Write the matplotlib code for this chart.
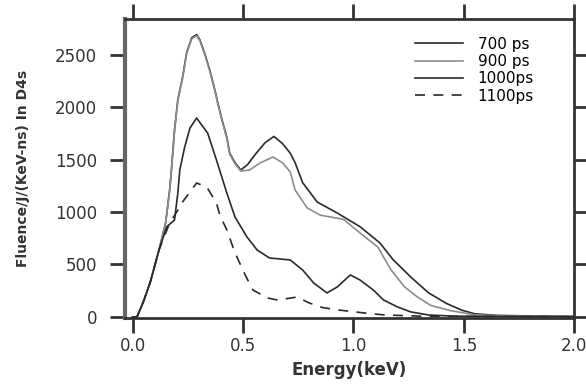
import matplotlib
matplotlib.use("Agg")
import matplotlib.pyplot as plt

# ---- data ----
x_700 = [0.0, 0.02, 0.05, 0.08, 0.12, 0.15, 0.168, 0.177, 0.19, 0.205, 0.227, 0.245, 0.268, 0.29,
         0.305, 0.327, 0.35, 0.373, 0.386, 0.405, 0.427, 0.44, 0.464, 0.49, 0.52, 0.56, 0.6, 0.64,
         0.68, 0.714, 0.736, 0.77, 0.836, 0.927, 1.03, 1.12, 1.18, 1.26, 1.34, 1.42, 1.49, 1.55,
         1.65, 1.8, 2.0]
y_700 = [0, 0, 150, 330, 640, 900, 1210, 1430, 1780, 2070, 2290, 2520, 2660, 2690,
         2640, 2510, 2350, 2160, 2040, 1880, 1710, 1560, 1470, 1400, 1450, 1560, 1660, 1720,
         1650, 1560, 1470, 1280, 1095, 990, 860, 705, 545, 380, 230, 130, 65, 30,
         15, 10, 5]

x_900 = [0.0, 0.02, 0.05, 0.08, 0.12, 0.15, 0.168, 0.177, 0.19, 0.205, 0.227, 0.245, 0.268, 0.29,
         0.305, 0.327, 0.35, 0.373, 0.386, 0.405, 0.427, 0.44, 0.464, 0.49, 0.53, 0.577, 0.636,
         0.68, 0.714, 0.736, 0.79, 0.85, 0.955, 1.03, 1.11, 1.17, 1.23, 1.29, 1.35, 1.44, 1.55,
         1.7, 2.0]
y_900 = [0, 0, 150, 330, 640, 900, 1200, 1420, 1770, 2060, 2280, 2510, 2650, 2680,
         2630, 2500, 2340, 2150, 2030, 1870, 1700, 1550, 1460, 1390, 1400, 1467, 1524,
         1467, 1381, 1210, 1040, 970, 930, 800, 667, 450, 290, 190, 110, 60, 20,
         10, 5]

x_1000 = [0.0, 0.02, 0.05, 0.08, 0.12, 0.155, 0.19, 0.205, 0.214, 0.236, 0.26, 0.29, 0.34, 0.38,
          0.427, 0.464, 0.518, 0.564, 0.62, 0.714, 0.77, 0.82, 0.88, 0.927, 0.986, 1.03, 1.09,
          1.136, 1.2, 1.26, 1.34, 1.45, 1.6, 2.0]
y_1000 = [0, 0, 150, 330, 640, 860, 924, 1180, 1400, 1619, 1800, 1895, 1752, 1495,
          1180, 952, 762, 638, 562, 543, 448, 324, 229, 286, 400, 352, 257,
          162, 95, 48, 19, 8, 5, 3]

x_1100 = [0.0, 0.02, 0.05, 0.08, 0.12, 0.168, 0.2, 0.223, 0.26, 0.29, 0.336, 0.38, 0.395, 0.427,
          0.464, 0.51, 0.545, 0.61, 0.655, 0.7, 0.745, 0.8, 0.86, 0.93, 1.05, 1.14, 1.3, 1.6, 2.0]
y_1100 = [0, 0, 150, 330, 640, 895, 1000, 1086, 1190, 1276, 1238, 1086, 971, 829,
          610, 400, 257, 181, 162, 175, 190, 133, 90, 67, 38, 19, 8, 4, 2]

labels = ["700 ps", "900 ps", "1000ps", "1100ps"]
x_ticks = [0.0, 0.5, 1.0, 1.5, 2.0]
x_ticklabels = ["0.0", "0.5", "1.0", "1.5", "2.0"]
y_ticks = [0, 500, 1000, 1500, 2000, 2500]

dark = "#2a2a2a"
gray = "#8c8c8c"

fig = plt.figure(figsize=(5.86, 3.85), dpi=100)
ax = fig.add_axes([0.213, 0.174, 0.767, 0.777])

ax.plot(x_700, y_700, color=dark, lw=1.2, label=labels[0])
ax.plot(x_900, y_900, color=gray, lw=1.2, label=labels[1])
ax.plot(x_1000, y_1000, color=dark, lw=1.2, label=labels[2])
ax.plot(x_1100, y_1100, color=dark, lw=1.2, linestyle=(0, (6, 5)), label=labels[3])

ax.set_xlim(-0.035, 2.0)
ax.set_ylim(-10, 2840)
ax.set_xticks(x_ticks)
ax.set_xticklabels(x_ticklabels)
ax.set_yticks(y_ticks)

ax.tick_params(axis="both", which="major", direction="out", length=11, width=2,
               colors="#333333", labelsize=12, labelcolor="#333333",
               top=True, right=True)
ax.tick_params(axis="y", pad=9)
ax.tick_params(axis="x", pad=3)

for side in ["top", "bottom", "right"]:
    ax.spines[side].set_linewidth(2)
    ax.spines[side].set_color("#333333")
ax.spines["left"].set_linewidth(3)
ax.spines["left"].set_color("#666666")

ax.set_xlabel("Energy(keV)", fontsize=12, fontweight="bold", color="#333333", labelpad=4)
ax.set_ylabel("Fluence/J/(KeV-ns) In D4s", fontsize=10, fontweight="bold", color="#333333",
              labelpad=18)

ax.legend(loc="upper left", bbox_to_anchor=(0.646, 0.94), frameon=False, fontsize=11,
          handlelength=3.1, handletextpad=1.0, labelspacing=0.15, borderpad=0,
          borderaxespad=0)

fig.savefig("out.png", dpi=100)
